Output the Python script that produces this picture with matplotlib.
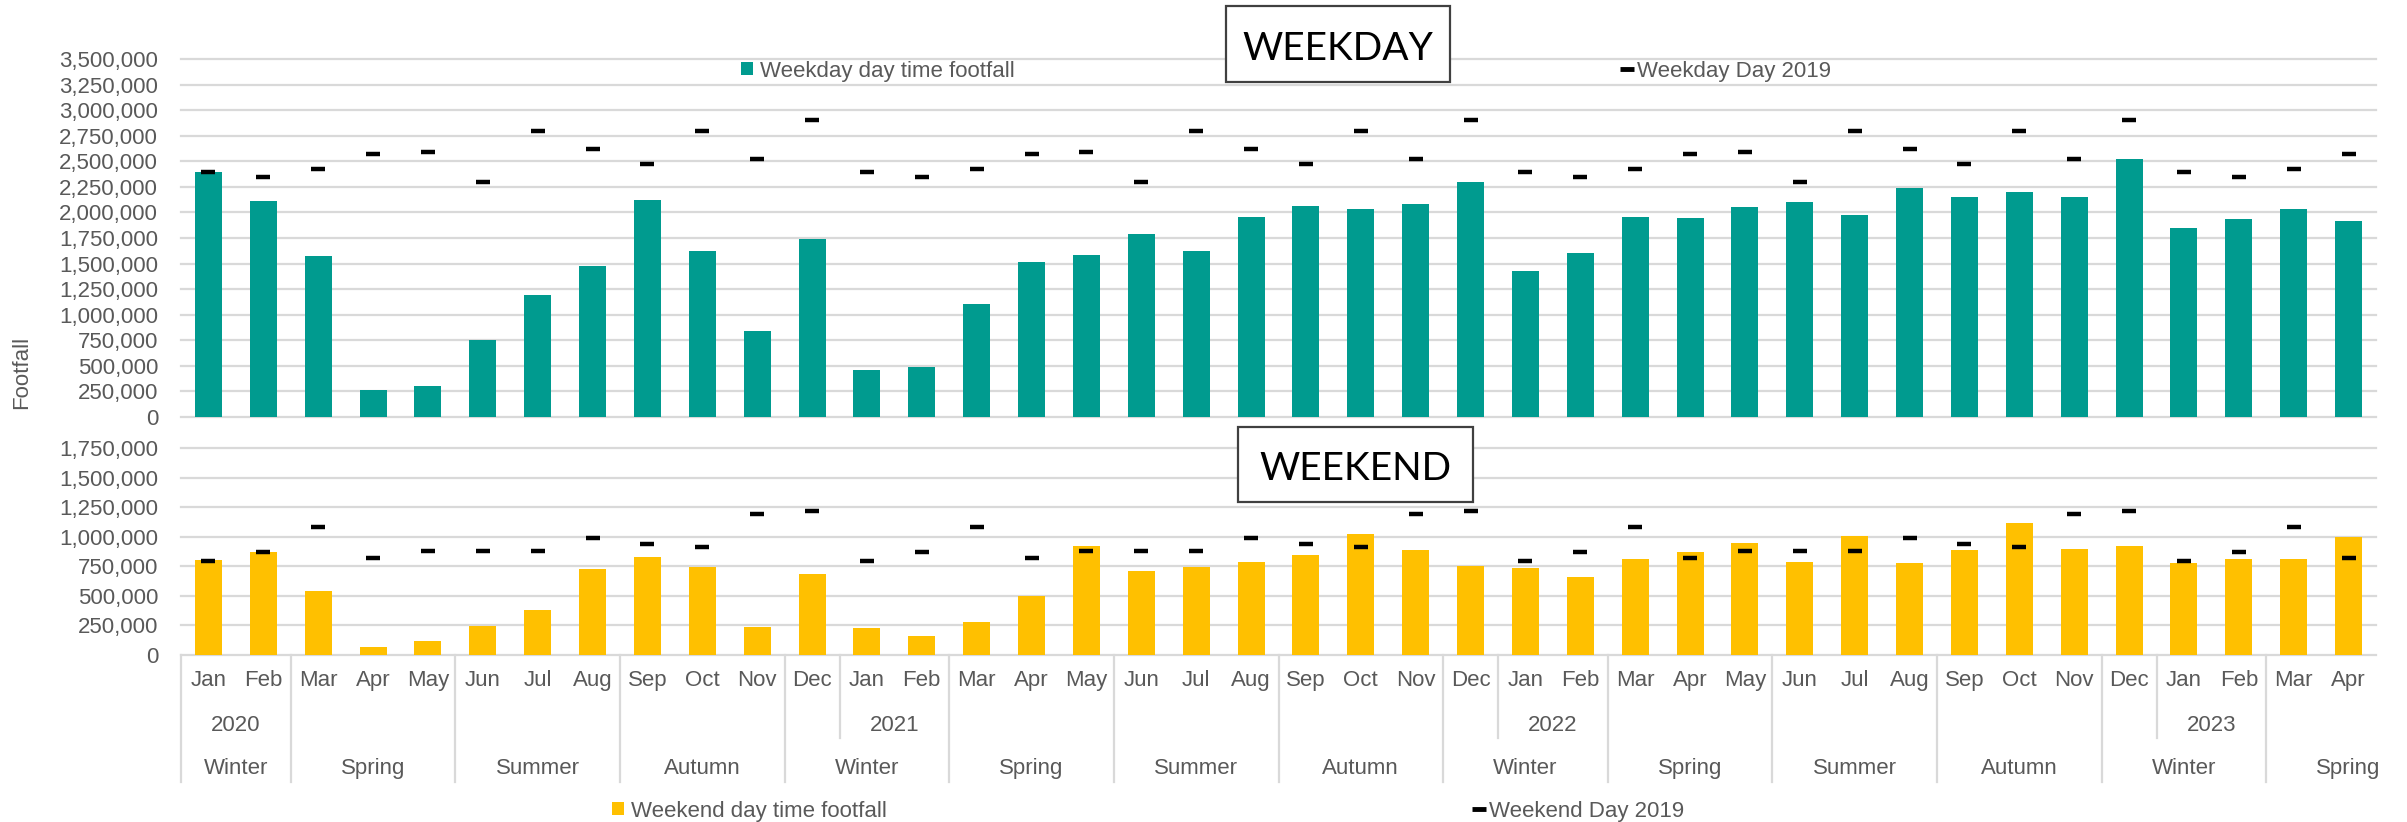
import matplotlib
matplotlib.use("Agg")
import matplotlib.pyplot as plt
import matplotlib.transforms as mtransforms
from matplotlib.patches import Rectangle, Patch
from matplotlib.lines import Line2D
from matplotlib.ticker import MultipleLocator, FuncFormatter

# ---------------------------------------------------------------- data
months = ["Jan", "Feb", "Mar", "Apr", "May", "Jun", "Jul", "Aug", "Sep", "Oct", "Nov", "Dec",
          "Jan", "Feb", "Mar", "Apr", "May", "Jun", "Jul", "Aug", "Sep", "Oct", "Nov", "Dec",
          "Jan", "Feb", "Mar", "Apr", "May", "Jun", "Jul", "Aug", "Sep", "Oct", "Nov", "Dec",
          "Jan", "Feb", "Mar", "Apr"]

years = ["2020", "2021", "2022", "2023"]
year_first_index = [0, 12, 24, 36]          # first January of each year

seasons = ["Winter", "Spring", "Summer", "Autumn", "Winter", "Spring", "Summer",
           "Autumn", "Winter", "Spring", "Summer", "Autumn", "Winter", "Spring"]
season_lengths = [2, 3, 3, 3, 3, 3, 3, 3, 3, 3, 3, 3, 3, 2]

weekday = [2400000, 2110000, 1570000, 268000, 303000, 750000, 1190000, 1480000,
           2120000, 1625000, 839000, 1745000,
           457000, 493000, 1100000, 1520000, 1580000, 1790000, 1620000, 1960000,
           2060000, 2030000, 2080000, 2300000,
           1430000, 1600000, 1960000, 1945000, 2050000, 2105000, 1975000, 2240000,
           2150000, 2200000, 2150000, 2520000,
           1850000, 1935000, 2030000, 1920000]

weekday_2019 = [2400000, 2350000, 2420000, 2575000, 2590000, 2300000, 2800000, 2620000,
                2470000, 2800000, 2520000, 2905000,
                2400000, 2350000, 2420000, 2575000, 2590000, 2300000, 2800000, 2620000,
                2470000, 2800000, 2520000, 2905000,
                2400000, 2350000, 2420000, 2575000, 2590000, 2300000, 2800000, 2620000,
                2470000, 2800000, 2520000, 2905000,
                2400000, 2350000, 2420000, 2575000]

weekend = [804000, 869000, 545000, 65000, 116000, 245000, 381000, 731000,
           832000, 742000, 234000, 683000,
           226000, 161000, 282000, 502000, 925000, 711000, 748000, 787000,
           846000, 1027000, 886000, 753000,
           739000, 663000, 810000, 869000, 951000, 787000, 1007000, 782000,
           889000, 1112000, 894000, 923000,
           782000, 815000, 815000, 996000]

weekend_2019 = [795000, 869000, 1083000, 821000, 877000, 883000, 877000, 993000,
                940000, 917000, 1194000, 1219000,
                795000, 869000, 1083000, 821000, 877000, 883000, 877000, 993000,
                940000, 917000, 1194000, 1219000,
                795000, 869000, 1083000, 821000, 877000, 883000, 877000, 993000,
                940000, 917000, 1194000, 1219000,
                795000, 869000, 1083000, 821000]

# ---------------------------------------------------------------- style
TEAL = "#009B8F"
GOLD = "#FFC000"
GRID = "#D9D9D9"
TXT = "#595959"
FS = 16
plt.rcParams["font.family"] = ["Liberation Sans", "DejaVu Sans"]

W, H = 2407, 822
fig = plt.figure(figsize=(W / 100, H / 100), dpi=100)


def fx(px):
    return px / W


def fy(py):
    return 1 - py / H


left, right = fx(181), fx(2376)
ax_top = fig.add_axes([left, fy(417), right - left, fy(59) - fy(417)])
ax_bot = fig.add_axes([left, fy(655), right - left, fy(448) - fy(655)])

x = list(range(len(months)))

ax_top.bar(x, weekday, width=0.49, color=TEAL, zorder=2)
ax_top.plot(x, weekday_2019, ls="none", marker="_", ms=10.5, mew=3.2,
            color="black", zorder=3)

ax_bot.bar(x, weekend, width=0.49, color=GOLD, zorder=2)
ax_bot.plot(x, weekend_2019, ls="none", marker="_", ms=10.5, mew=3.2,
            color="black", zorder=3)

fmt = FuncFormatter(lambda v, _: f"{int(round(v)):,}")
for ax, top in ((ax_top, 3500000), (ax_bot, 1750000)):
    ax.set_xlim(-0.5, len(months) - 0.5)
    ax.set_ylim(0, top)
    ax.yaxis.set_major_locator(MultipleLocator(250000))
    ax.yaxis.set_major_formatter(fmt)
    ax.yaxis.grid(True, color=GRID, lw=1.6)
    ax.set_axisbelow(True)
    for ln in ax.get_ygridlines():
        ln.set_clip_on(False)
    for s in ax.spines.values():
        s.set_visible(False)
    ax.tick_params(axis="y", length=0, pad=16.5, labelsize=FS, labelcolor=TXT)

ax_top.set_xticks([])
ax_bot.set_xticks(x)
ax_bot.set_xticklabels(months)
ax_bot.tick_params(axis="x", length=0, pad=11, labelsize=FS, labelcolor=TXT)

# multi-level category axis: separators, years and seasons
trans = mtransforms.blended_transform_factory(ax_bot.transData, fig.transFigure)
pos = -0.5
season_bounds = []
season_centres = []
for n in season_lengths:
    season_bounds.append(pos)
    season_centres.append(pos + n / 2)
    pos += n
season_centres[-1] += 0.5  # last group label sits under its second bar

for b in season_bounds:
    ax_bot.add_line(Line2D([b, b], [fy(655), fy(782)], transform=trans,
                           color=GRID, lw=1.6, clip_on=False))
for i in year_first_index[1:]:
    ax_bot.add_line(Line2D([i - 0.5, i - 0.5], [fy(655), fy(738)], transform=trans,
                           color=GRID, lw=1.6, clip_on=False))

for yr, i in zip(years, year_first_index):
    ax_bot.text(i + 0.5, fy(725), yr, transform=trans, ha="center", va="center",
                fontsize=FS, color=TXT)
for name, c in zip(seasons, season_centres):
    ax_bot.text(c, fy(768), name, transform=trans, ha="center", va="center",
                fontsize=FS, color=TXT)

ax_bot.set_xlim(-0.5, len(months) - 0.5)

fig.text(fx(22), fy(372), "Footfall", rotation=90, ha="center", va="center",
         fontsize=FS, color=TXT)

# legends
def add_legend(handle, label, xpx, ypx, hl, pad):
    fig.legend([handle], [label], loc="center left",
               bbox_to_anchor=(fx(xpx), fy(ypx)), frameon=False, fontsize=FS,
               handlelength=hl, handleheight=0.55, handletextpad=pad,
               borderpad=0, borderaxespad=0, labelcolor=TXT, numpoints=1)


dash = Line2D([], [], ls="none", marker="_", ms=9.5, mew=3.5, color="black")
add_legend(Patch(facecolor=TEAL, edgecolor="none"), "Weekday day time footfall",
           741, 71, 0.55, 0.3)
add_legend(dash, "Weekday Day 2019", 1620, 71, 0.6, 0.15)
add_legend(Patch(facecolor=GOLD, edgecolor="none"), "Weekend day time footfall",
           612, 811, 0.55, 0.3)
add_legend(dash, "Weekend Day 2019", 1472, 811, 0.6, 0.15)

# boxed panel titles
def add_title(label, x0, y0, x1, y1, baseline):
    fig.add_artist(Rectangle((fx(x0), fy(y1)), fx(x1) - fx(x0), (y1 - y0) / H,
                             transform=fig.transFigure, facecolor="white",
                             edgecolor="#404040", lw=1.6, zorder=5))
    fig.text(fx((x0 + x1) / 2), fy(baseline), label, ha="center", va="baseline",
             fontsize=28, family="Lato", color="black", zorder=6)


add_title("WEEKDAY", 1226, 6, 1450, 82, 60)
add_title("WEEKEND", 1238, 427, 1473, 502, 480)

fig.savefig("out.png", dpi=100, facecolor="white")
